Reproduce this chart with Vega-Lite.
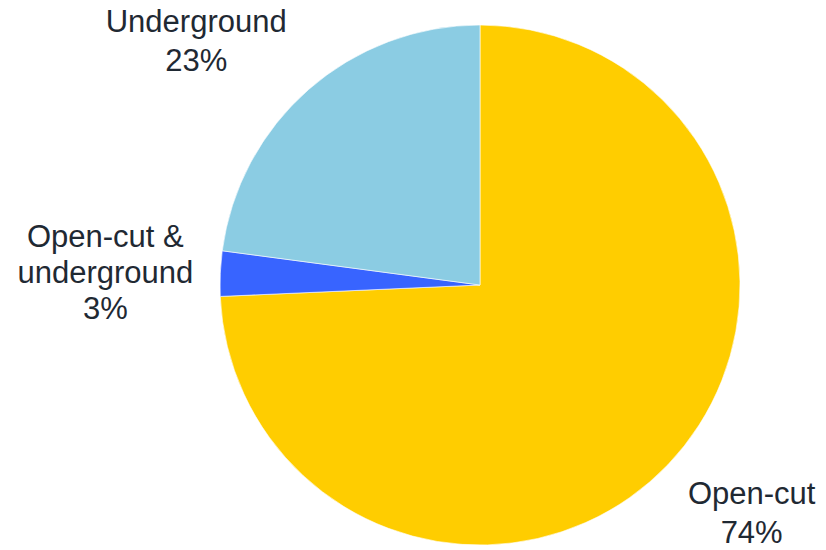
{
  "$schema": "https://vega.github.io/schema/vega-lite/v6.json",
  "width": 692,
  "height": 530,
  "autosize": "none",
  "padding": {"left": 134, "top": 20, "right": 0, "bottom": 0},
  "background": "#ffffff",
  "config": {"view": {"stroke": null}},
  "data": {
    "values": [
      {"category": "Open-cut", "value": 74.3, "label": "Open-cut\n74%"},
      {"category": "Open-cut & underground", "value": 2.8, "label": "Open-cut &\nunderground\n3%"},
      {"category": "Underground", "value": 22.9, "label": "Underground\n23%"}
    ]
  },
  "transform": [
    {"stack": "value", "groupby": [], "sort": [{"field": "category", "order": "ascending"}], "as": ["v0", "v1"]},
    {"calculate": "(datum.v0 + datum.v1) / 2", "as": "mid"}
  ],
  "layer": [
    {
      "mark": {"type": "arc", "radius": 260, "stroke": "#ffffff", "strokeWidth": 0.6},
      "encoding": {
        "theta": {"field": "v0", "type": "quantitative", "stack": null, "scale": {"domain": [0, 100]}},
        "theta2": {"field": "v1"},
        "color": {
          "field": "category",
          "type": "nominal",
          "legend": null,
          "scale": {
            "domain": ["Open-cut", "Open-cut & underground", "Underground"],
            "range": ["#FFCD00", "#3864FF", "#8BCCE3"]
          }
        }
      }
    },
    {
      "transform": [{"filter": "datum.category === 'Open-cut'"}],
      "mark": {"type": "text", "radius": 358, "dx": 13, "dy": -38, "align": "center", "baseline": "middle", "font": "Liberation Sans", "fontSize": 31, "lineHeight": 39, "lineBreak": "\n", "color": "#1F2933"},
      "encoding": {
        "theta": {"field": "mid", "type": "quantitative", "stack": null, "scale": {"domain": [0, 100]}},
        "text": {"field": "label"}
      }
    },
    {
      "transform": [{"filter": "datum.category === 'Open-cut & underground'"}],
      "mark": {"type": "text", "radius": 375, "dx": 0, "dy": -31, "align": "center", "baseline": "middle", "font": "Liberation Sans", "fontSize": 31, "lineHeight": 36, "lineBreak": "\n", "color": "#1F2933"},
      "encoding": {
        "theta": {"field": "mid", "type": "quantitative", "stack": null, "scale": {"domain": [0, 100]}},
        "text": {"field": "label"}
      }
    },
    {
      "transform": [{"filter": "datum.category === 'Underground'"}],
      "mark": {"type": "text", "radius": 373, "dx": -38, "dy": 19, "align": "center", "baseline": "middle", "font": "Liberation Sans", "fontSize": 31, "lineHeight": 39, "lineBreak": "\n", "color": "#1F2933"},
      "encoding": {
        "theta": {"field": "mid", "type": "quantitative", "stack": null, "scale": {"domain": [0, 100]}},
        "text": {"field": "label"}
      }
    }
  ]
}
